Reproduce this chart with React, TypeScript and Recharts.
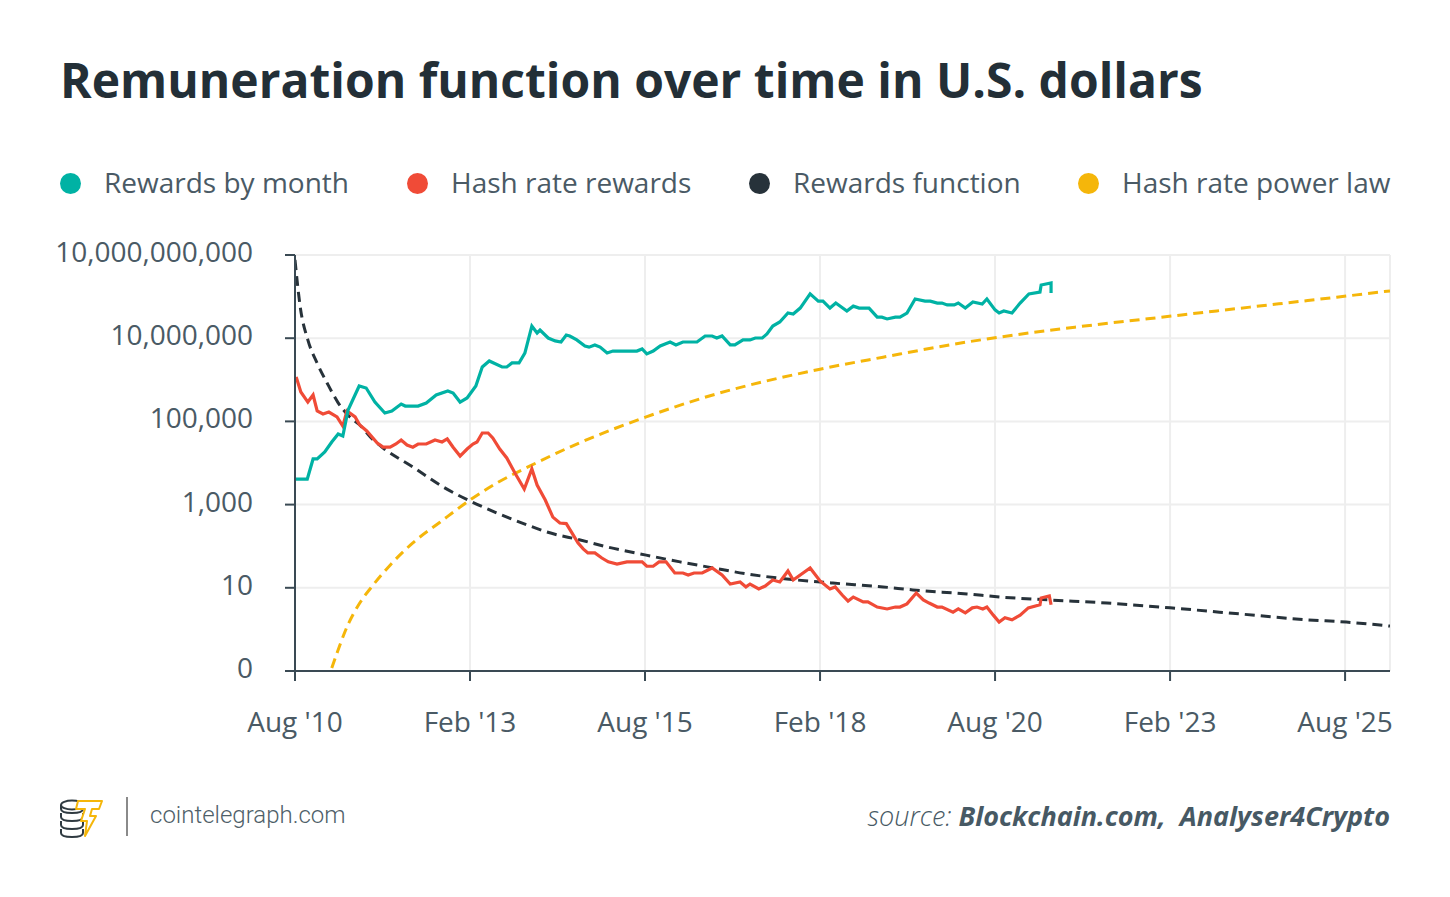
import React from "react";
import { LineChart, Line, XAxis, YAxis, CartesianGrid } from "recharts";

// months since Aug 2010, value in U.S. dollars
const rewardsByMonth: [number, number][] = [
  [0, 4100], [2.1, 4100], [3.1, 12500], [3.8, 12500], [5.1, 18400], [6.3, 32000],
  [7.4, 50000], [8.2, 44500], [9.1, 188000], [11, 710000], [12.2, 635000], [13.7, 292000],
  [15.4, 159000], [16.6, 178000], [18.2, 262000], [18.9, 234000], [21.1, 234000], [22.5, 277000],
  [24.2, 431000], [26.2, 538000], [27.1, 482000], [28.3, 292000], [29.5, 366000], [31, 710000],
  [32.1, 2030000], [33.3, 2830000], [35.5, 2030000], [36.3, 2030000], [37.2, 2540000], [38.4, 2540000],
  [39.4, 4400000], [40.6, 19600000], [41.5, 13300000], [42, 15700000], [43.4, 10100000], [44.6, 8600000],
  [45.6, 8100000], [46.5, 11900000], [47.1, 11300000], [48.3, 9100000], [49.7, 6500000], [50.4, 6100000],
  [51.4, 6900000], [52.3, 6100000], [53.5, 4400000], [54.5, 4900000], [58.6, 4900000], [59.5, 5500000],
  [60.3, 4200000], [61.4, 4900000], [62.6, 6500000], [64.3, 8100000], [65.3, 6900000], [66.5, 8100000],
  [68.9, 8100000], [70.3, 11300000], [71.5, 11300000], [72.3, 10100000], [73.2, 11300000], [74.6, 6900000],
  [75.4, 6900000], [76.8, 9100000], [78, 9100000], [78.9, 10100000], [80.1, 10100000], [80.9, 12600000],
  [81.9, 19600000], [83.1, 24500000], [84.5, 40300000], [85.4, 38000000], [86.6, 53000000], [88.3, 116000000],
  [89.7, 78000000], [90.5, 78000000], [91.7, 53000000], [92.7, 70000000], [94.6, 45000000], [95.7, 59000000],
  [96.7, 53000000], [98.4, 53000000], [99.8, 32000000], [100.6, 32000000], [101.5, 29000000], [102.9, 32000000],
  [103.7, 32000000], [104.9, 40300000], [106.3, 87500000], [108, 78000000], [108.9, 78000000], [110.1, 70000000],
  [110.9, 70000000], [111.8, 63000000], [113, 63000000], [113.7, 70000000], [114.9, 53000000], [116.2, 74000000],
  [117.8, 66000000], [118.6, 87500000], [120, 48000000], [120.7, 40300000], [121.5, 45000000], [122.9, 40300000],
  [124.3, 70000000], [125.8, 116000000], [127.7, 129000000], [127.9, 190000000], [129.6, 212000000], [129.6, 122000000],
];

const hashRateRewards: [number, number][] = [
  [0.2, 1170000], [1, 510000], [2.2, 292000], [3.1, 431000], [3.8, 178000], [4.8, 151000],
  [5.8, 168000], [7.2, 128000], [8.2, 77000], [8.9, 178000], [10.3, 128000], [11.1, 82000],
  [12.3, 59000], [14.1, 30000], [15.1, 24000], [16.3, 24000], [17.3, 28600], [18.2, 35700],
  [19.2, 27100], [20.2, 24000], [21.1, 28600], [22.5, 28600], [24, 35700], [25.2, 32000],
  [26.1, 37800], [27.1, 24000], [28.3, 14700], [29.5, 21700], [30.5, 28600], [31.2, 32000],
  [32.1, 52600], [33.1, 52600], [33.9, 40000], [35.1, 21700], [36.3, 13200], [37.7, 5750],
  [39.3, 2370], [40.6, 7200], [41.5, 2960], [42.9, 1290], [44.2, 500], [45.4, 360],
  [46.5, 350], [47.5, 207], [48.5, 120], [49.4, 86], [50.2, 69], [51.4, 69],
  [52.6, 52], [53.7, 42], [55.2, 37], [56.9, 42], [59.5, 42], [60.3, 33],
  [61.4, 33], [62.4, 42], [63.6, 42], [65.1, 22.7], [66.5, 22.7], [67.4, 20.3],
  [68.4, 22.7], [69.8, 22.7], [71.5, 30], [73.2, 20.3], [74.6, 12.3], [76.3, 13.8],
  [77.3, 10.5], [78, 12.3], [79.5, 9.4], [80.6, 11], [81.9, 15.4], [83.1, 13.8],
  [84.5, 25.4], [85.4, 15.4], [88.3, 30], [90, 14.6], [91.7, 9.4], [92.6, 10.5],
  [93.8, 6.7], [94.8, 4.8], [95.7, 6], [97.4, 4.6], [98.2, 4.6], [99.8, 3.45],
  [101.5, 3.1], [102.9, 3.45], [103.7, 3.45], [104.9, 4.1], [106.5, 7.5], [107.7, 5.1],
  [108.7, 4.3], [110.1, 3.45], [110.9, 3.45], [112.8, 2.6], [113.7, 3.1], [114.9, 2.5],
  [116.1, 3.3], [116.9, 3.45], [117.9, 3.1], [118.6, 3.45], [119.7, 2.2], [120.7, 1.5],
  [121.7, 1.9], [122.9, 1.7], [124.3, 2.2], [125.7, 3.3], [127.7, 3.9], [127.9, 5.7],
  [129.3, 6.4], [129.6, 3.9],
];

const rewardsFunction: [number, number][] = [
  [0, 760000000], [0.9, 56000000], [2.2, 9100000], [3.8, 2500000], [5.5, 840000], [7.4, 280000],
  [9.4, 128000], [11.1, 82000], [13.4, 36000], [15.1, 23000], [20.2, 8000], [25.4, 2650],
  [30, 1220], [34.6, 630], [39.8, 324], [43.2, 219], [48.9, 141], [53.5, 96],
  [60.2, 61], [66, 42], [71.7, 30], [77.5, 21.5], [84.3, 16.3], [92.2, 13],
  [100.8, 10.5], [105.9, 8.9], [115.2, 7.1], [120.9, 6], [129.4, 5.1], [139.2, 4.3],
  [150, 3.3], [162, 2.35], [173.5, 1.7], [180.2, 1.5], [187.7, 1.2],
];

const hashRatePowerLaw: [number, number][] = [
  [6.3, 0.118], [7.2, 0.27], [8.9, 1.14], [11.1, 4.3], [13.4, 11.7], [16.3, 35],
  [20.2, 120], [24.9, 382], [30, 1290], [34.6, 3300], [40.3, 8500], [48.3, 28600],
  [60.2, 128000], [69.9, 366000], [90, 1800000], [100.8, 3500000], [115.2, 8100000], [120.9, 10700000],
  [134, 18600000], [150.2, 34000000], [180.2, 103000000], [187.7, 137000000],
];

const xTicks = [0, 30, 60, 90, 120, 150, 180];
const xTickLabels = ["Aug '10", "Feb '13", "Aug '15", "Feb '18", "Aug '20", "Feb '23", "Aug '25"];
const yTicks = [0.1, 10, 1000, 100000, 10000000, 1000000000];
const yTickLabels = ["0", "10", "1,000", "100,000", "10,000,000", "10,000,000,000"];

const seriesNames = ["Rewards by month", "Hash rate rewards", "Rewards function", "Hash rate power law"];
const seriesColors = ["#00b2a4", "#f04b37", "#27323a", "#f5b60a"];

const toPoints = (rows: [number, number][]) => rows.map(([m, v]) => ({ m, v }));

const axisColor = "#3a4a54";
const textColor = "#4a5a65";

const legendX = [60, 407, 749, 1078];

const Logo = () => (
  <svg width={50} height={42} viewBox="0 0 50 42" style={{ position: "absolute", left: 58, top: 796 }}>
    <g fill="#fff" stroke="#2f3a41" strokeWidth={2}>
      <path d="M3 33 v4 c0 3 6 4 11 4 s11 -1 11 -4 v-4" />
      <path d="M3 25 v4 c0 3 6 4 11 4 s11 -1 11 -4 v-4" />
      <path d="M3 17 v4 c0 3 6 4 11 4 s11 -1 11 -4 v-4" />
      <path d="M3 9 v4 c0 3 6 4 11 4 s11 -1 11 -4 v-4" />
      <ellipse cx={14} cy={9} rx={11} ry={4.5} />
    </g>
    <path
      d="M20 5 L44 5 L41 13 L34 13 L32 20 L38 20 L27 40 L29 25 L23 25 L27 13 L18 13 Z"
      fill="#fff"
      stroke="#f5b60a"
      strokeWidth={2}
      strokeLinejoin="round"
    />
  </svg>
);

export default function App() {
  return (
    <div
      style={{
        position: "absolute",
        left: 0,
        top: 0,
        width: 1450,
        height: 897,
        background: "#fff",
        fontFamily: "'Open Sans', sans-serif",
        overflow: "hidden",
      }}
    >
      <div
        style={{
          position: "absolute",
          left: 60,
          top: 56,
          fontSize: 48,
          lineHeight: "48px",
          fontWeight: 700,
          color: "#232f37",
          whiteSpace: "nowrap",
        }}
      >
        Remuneration function over time in U.S. dollars
      </div>

      {seriesNames.map((name, i) => (
        <div
          key={name}
          style={{ position: "absolute", left: legendX[i], top: 164, height: 36, display: "flex", alignItems: "center" }}
        >
          <div style={{ width: 21, height: 21, borderRadius: 11, background: seriesColors[i], marginTop: 2 }} />
          <span style={{ marginLeft: 23, fontSize: 28, color: textColor, whiteSpace: "nowrap" }}>{name}</span>
        </div>
      ))}

      <div style={{ position: "absolute", left: 0, top: 230 }}>
        <LineChart width={1450} height={530} margin={{ top: 25, right: 60, bottom: 29, left: 0 }}>
          <CartesianGrid stroke="#eeeeee" strokeWidth={2} />
          <XAxis
            dataKey="m"
            type="number"
            domain={[0, 187.7]}
            ticks={xTicks}
            tickFormatter={(t: number) => xTickLabels[xTicks.indexOf(t)]}
            axisLine={{ stroke: axisColor, strokeWidth: 2 }}
            tickLine={{ stroke: axisColor, strokeWidth: 2 }}
            tickSize={10}
            tickMargin={31}
            height={60}
            tick={{ fill: textColor, fontSize: 28 }}
            allowDataOverflow
          />
          <YAxis
            dataKey="v"
            type="number"
            scale="log"
            domain={[0.1, 1000000000]}
            ticks={yTicks}
            tickFormatter={(t: number) => yTickLabels[yTicks.indexOf(t)]}
            axisLine={{ stroke: axisColor, strokeWidth: 2 }}
            tickLine={{ stroke: axisColor, strokeWidth: 2 }}
            tickSize={10}
            tickMargin={32}
            width={295}
            tick={{ fill: textColor, fontSize: 28, dy: -3 }}
            allowDataOverflow
          />
          <Line
            data={toPoints(hashRatePowerLaw)}
            dataKey="v"
            type="monotone"
            stroke={seriesColors[3]}
            strokeWidth={3}
            strokeDasharray="10 6"
            dot={false}
            isAnimationActive={false}
          />
          <Line
            data={toPoints(rewardsFunction)}
            dataKey="v"
            type="monotone"
            stroke={seriesColors[2]}
            strokeWidth={3}
            strokeDasharray="10 6"
            dot={false}
            isAnimationActive={false}
          />
          <Line
            data={toPoints(hashRateRewards)}
            dataKey="v"
            type="linear"
            stroke={seriesColors[1]}
            strokeWidth={3.2}
            dot={false}
            isAnimationActive={false}
          />
          <Line
            data={toPoints(rewardsByMonth)}
            dataKey="v"
            type="linear"
            stroke={seriesColors[0]}
            strokeWidth={3.2}
            dot={false}
            isAnimationActive={false}
          />
        </LineChart>
      </div>

      <Logo />
      <div style={{ position: "absolute", left: 126, top: 797, width: 2, height: 39, background: "#8a8a8a" }} />
      <div
        style={{
          position: "absolute",
          left: 150,
          top: 800,
          fontFamily: "Roboto, sans-serif",
          fontSize: 24,
          fontWeight: 300,
          lineHeight: "30px",
          color: "#4f5f69",
        }}
      >
        cointelegraph.com
      </div>
      <div
        style={{
          position: "absolute",
          right: 60,
          top: 798,
          fontSize: 27,
          lineHeight: "36px",
          fontStyle: "italic",
          color: "#475964",
          whiteSpace: "pre",
        }}
      >
        <span style={{ fontWeight: 300 }}>source: </span>
        <span style={{ fontWeight: 700 }}>Blockchain.com,  Analyser4Crypto</span>
      </div>
    </div>
  );
}
